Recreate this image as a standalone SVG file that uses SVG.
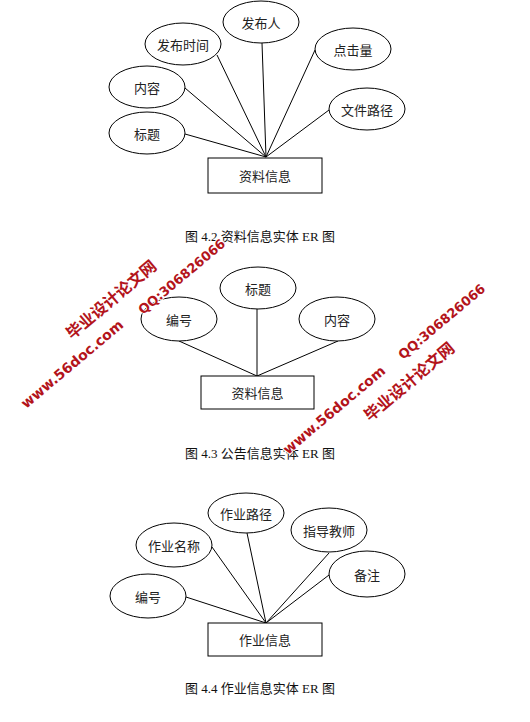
<svg xmlns="http://www.w3.org/2000/svg" width="530" height="722" viewBox="0 0 530 722">
<style>
.bg{fill:#fff}
.attr ellipse{fill:#fff;stroke:#000;stroke-width:1}
.ent rect{fill:#fff;stroke:#000;stroke-width:1}
.lbl{font-family:"Noto Sans CJK SC","Noto Sans",sans-serif;font-size:13px;fill:#222;text-anchor:middle;dominant-baseline:central}
.conn line{stroke:#000;stroke-width:1}
.cap{font-family:"Liberation Serif","Noto Sans CJK SC",serif;font-size:13px;fill:#111;text-anchor:middle}
.wm{font-family:"DejaVu Sans","Noto Sans CJK SC",sans-serif;font-weight:bold;fill:#b3141b;stroke:#fff;stroke-width:2;paint-order:stroke;stroke-linejoin:round}
</style>
<rect class="bg" x="0" y="0" width="530" height="722"/>

<!-- Diagram 1 -->
<g id="d1-connectors" class="conn">
<line x1="185" y1="134" x2="266" y2="157"/>
<line x1="185" y1="88" x2="266" y2="157"/>
<line x1="217" y1="55" x2="266" y2="157"/>
<line x1="262" y1="43" x2="266" y2="157"/>
<line x1="315" y1="50" x2="266" y2="157"/>
<line x1="329" y1="110" x2="266" y2="157"/>
</g>
<g id="d1-faburen" class="attr"><ellipse cx="261" cy="22" rx="38" ry="21"/><text class="lbl" x="261" y="22">发布人</text></g>
<g id="d1-fabushijian" class="attr"><ellipse cx="183" cy="44" rx="38" ry="21"/><text class="lbl" x="183" y="44">发布时间</text></g>
<g id="d1-dianjiliang" class="attr"><ellipse cx="353" cy="49" rx="38" ry="21"/><text class="lbl" x="353" y="49">点击量</text></g>
<g id="d1-neirong" class="attr"><ellipse cx="147" cy="87" rx="38" ry="21"/><text class="lbl" x="147" y="87">内容</text></g>
<g id="d1-wenjianlujing" class="attr"><ellipse cx="367" cy="109" rx="38" ry="21"/><text class="lbl" x="367" y="109">文件路径</text></g>
<g id="d1-biaoti" class="attr"><ellipse cx="147" cy="133" rx="38" ry="21"/><text class="lbl" x="147" y="133">标题</text></g>
<g id="d1-entity" class="ent"><rect x="208" y="158" width="114" height="35"/><text class="lbl" x="265" y="175.5">资料信息</text></g>
<text class="cap" x="260" y="241">图 4.2 资料信息实体 ER 图</text>

<!-- Diagram 2 -->
<g id="d2-connectors" class="conn">
<line x1="179" y1="341" x2="257" y2="376"/>
<line x1="257" y1="309" x2="257" y2="376"/>
<line x1="338" y1="341" x2="257" y2="376"/>
</g>
<g id="d2-biaoti" class="attr"><ellipse cx="258" cy="288" rx="38" ry="21"/><text class="lbl" x="258" y="288">标题</text></g>
<g id="d2-bianhao" class="attr"><ellipse cx="179" cy="319" rx="38" ry="22"/><text class="lbl" x="179" y="319">编号</text></g>
<g id="d2-neirong" class="attr"><ellipse cx="337" cy="319" rx="38" ry="22"/><text class="lbl" x="337" y="319">内容</text></g>
<g id="d2-entity" class="ent"><rect x="201" y="376" width="113" height="33"/><text class="lbl" x="257.5" y="392.5">资料信息</text></g>
<text class="cap" x="260" y="458">图 4.3 公告信息实体 ER 图</text>

<!-- Diagram 3 -->
<g id="d3-connectors" class="conn">
<line x1="212" y1="547" x2="266" y2="623"/>
<line x1="247" y1="533" x2="266" y2="623"/>
<line x1="329" y1="553" x2="266" y2="623"/>
<line x1="329" y1="575" x2="266" y2="623"/>
<line x1="186" y1="597" x2="266" y2="623"/>
</g>
<g id="d3-zuoyelujing" class="attr"><ellipse cx="246" cy="513" rx="38" ry="20"/><text class="lbl" x="246" y="513">作业路径</text></g>
<g id="d3-zuoyemingcheng" class="attr"><ellipse cx="174" cy="545" rx="38" ry="22"/><text class="lbl" x="174" y="545">作业名称</text></g>
<g id="d3-zhidaojiaoshi" class="attr"><ellipse cx="329" cy="530" rx="38" ry="22"/><text class="lbl" x="329" y="530">指导教师</text></g>
<g id="d3-beizhu" class="attr"><ellipse cx="367" cy="574" rx="38" ry="23"/><text class="lbl" x="367" y="574">备注</text></g>
<g id="d3-bianhao" class="attr"><ellipse cx="148" cy="596" rx="38" ry="22"/><text class="lbl" x="148" y="596">编号</text></g>
<g id="d3-entity" class="ent"><rect x="208" y="623" width="114" height="33"/><text class="lbl" x="265" y="639.5">作业信息</text></g>
<text class="cap" x="260" y="693">图 4.4 作业信息实体 ER 图</text>

<!-- Watermarks -->
<g id="watermark-1" class="wm">
<text x="26" y="409" font-size="14" transform="rotate(-40 26 409)">www.56doc.com</text>
<text x="72" y="340" font-size="16" transform="rotate(-40 72 340)">毕业设计论文网</text>
<text x="143" y="315" font-size="13" transform="rotate(-40 143 315)">QQ:306826066</text>
</g>
<g id="watermark-2" class="wm">
<text x="288" y="455" font-size="14" transform="rotate(-40 288 455)">www.56doc.com</text>
<text x="370" y="422" font-size="16" transform="rotate(-40 370 422)">毕业设计论文网</text>
<text x="403" y="360" font-size="13" transform="rotate(-40 403 360)">QQ:306826066</text>
</g>
</svg>
